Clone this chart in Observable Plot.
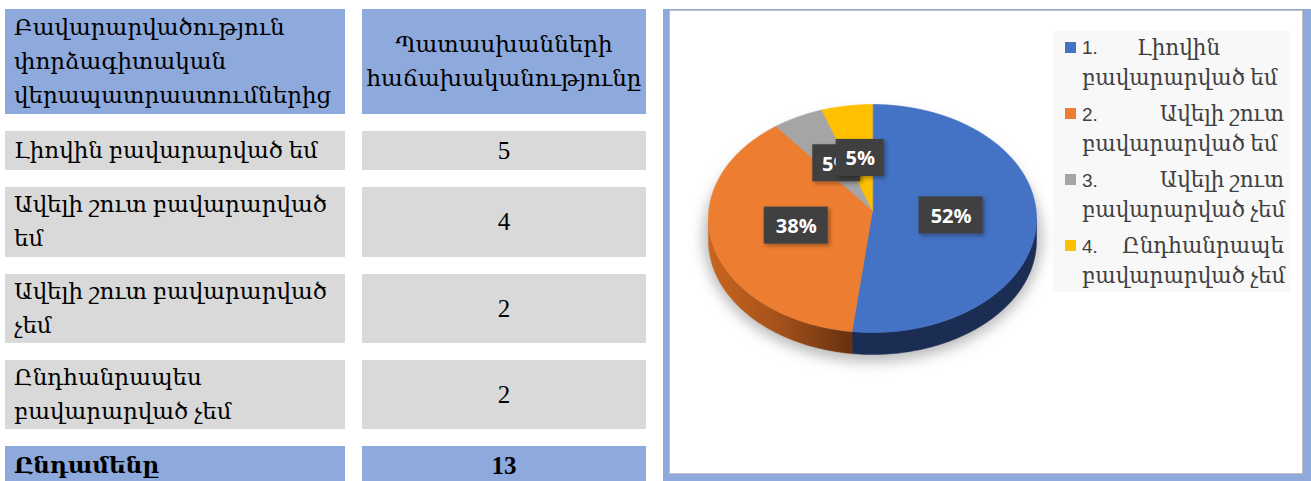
<!DOCTYPE html>
<html><head><meta charset="utf-8">
<script src="https://cdn.jsdelivr.net/npm/d3@7"></script>
<script src="https://cdn.jsdelivr.net/npm/@observablehq/plot@0.6"></script>
<style>
body{margin:0;background:#fff;}
#root{position:relative;width:1311px;height:481px;overflow:hidden;background:#fff;font-family:"Liberation Serif","DejaVu Serif",serif;}
.cell{position:absolute;display:flex;flex-direction:column;justify-content:center;box-sizing:border-box;color:#000;font-size:23px;line-height:34px;white-space:nowrap;}
.hdr{background:#8EA9DB;}
.row{background:#D9D9D9;}
.left{padding-left:9px;align-items:flex-start;}
.center{align-items:center;text-align:center;}
.num{font-size:25px;}
.bold{font-weight:bold;}
#frame{position:absolute;left:663px;top:9px;width:648px;height:480px;background:#8EA9DB;}
#inner{position:absolute;left:669px;top:10px;width:634px;height:464px;background:#fff;border:1px solid #BFBFBF;box-sizing:border-box;}
#plot{position:absolute;left:669px;top:10px;}
#legend{position:absolute;left:1053px;top:31px;width:237px;height:261px;background:#F8F8F8;color:#404040;font-size:21.5px;}
.item{position:relative;height:66px;}
.line{position:absolute;left:29px;right:6px;height:30px;line-height:30px;white-space:nowrap;display:flex;align-items:baseline;}
.sw{position:absolute;left:12px;top:11px;width:11px;height:11px;}
.lnum{font-family:"Liberation Sans",Arial,sans-serif;font-size:19px;}
.w{margin-left:auto;}
.w.tab{margin-left:0;position:absolute;left:55px;}
</style></head>
<body><div id="root"></div>
<script>
// ---- data ----
const headerLeftLines = ["Բավարարվածություն", "փորձագիտական", "վերապատրաստումներից"];
const headerRightLines = ["Պատասխանների", "հաճախականությունը"];
const categoryLines = [
  ["Լիովին բավարարված եմ"],
  ["Ավելի շուտ բավարարված", "եմ"],
  ["Ավելի շուտ բավարարված", "չեմ"],
  ["Ընդհանրապես", "բավարարված չեմ"]
];
const counts = [5, 4, 2, 2];
const totalLabel = "Ընդամենը";
const totalCount = 13;
const legendNumbers = ["1.", "2.", "3.", "4."];
const legendFirst = ["Լիովին", "Ավելի շուտ", "Ավելի շուտ", "Ընդհանրապե"];
const legendSecond = ["բավարարված եմ", "բավարարված եմ", "բավարարված չեմ", "բավարարված չեմ"];
const piePercents = [52, 38, 5, 5];
const pieLabels = ["52%", "38%", "5%", "5%"];

// ---- styles ----
const sliceColors = ["#4472C4", "#ED7D31", "#A5A5A5", "#FFC000"];
const sideColors = ["#1B2D52", "url(#orangeSide)", "#6E6E6E", "#B38600"];

const root = document.getElementById("root");
function cell(cls, x0, x1, y0, y1, lines) {
  const d = document.createElement("div");
  d.className = "cell " + cls;
  Object.assign(d.style, {left: x0 + "px", top: y0 + "px", width: (x1 - x0) + "px", height: (y1 - y0) + "px"});
  lines.forEach(t => { const s = document.createElement("div"); s.textContent = t; d.appendChild(s); });
  root.appendChild(d);
}
const colL = [5, 345], colR = [362, 646];
const rowY = [[131, 170], [187, 257], [274, 343], [360, 429]];
cell("hdr left", colL[0], colL[1], 9, 114, headerLeftLines);
cell("hdr center", colR[0], colR[1], 9, 114, headerRightLines);
categoryLines.forEach((lines, i) => {
  cell("row left", colL[0], colL[1], rowY[i][0], rowY[i][1], lines);
  cell("row center num", colR[0], colR[1], rowY[i][0], rowY[i][1], [String(counts[i])]);
});
cell("hdr left bold", colL[0], colL[1], 446, 486, [totalLabel]);
cell("hdr center bold num", colR[0], colR[1], 446, 486, [String(totalCount)]);

const frame = document.createElement("div"); frame.id = "frame"; root.appendChild(frame);
const inner = document.createElement("div"); inner.id = "inner"; root.appendChild(inner);

// ---- pie (Plot) ----
const W = 633, H = 463;
const cx = 203, cy = 208, apexDy = -8, rx = 164, ry = 114, depth = 22, labelK = 0.48;
const slices = piePercents.map((v, i) => ({i, value: v, label: pieLabels[i]}));
const arcs = d3.pie().sort(null).value(d => d.value)(slices);
const pt = (a, dy = 0, ex = 0, ey = 0) => ({x: cx + (rx + ex) * Math.sin(a), y: cy - (ry + ey) * Math.cos(a) + dy});
function arcPts(a0, a1, dy = 0, ex = 0, ey = 0) {
  const n = Math.max(2, Math.ceil((a1 - a0) / 0.02));
  return d3.range(n + 1).map(k => pt(a0 + (a1 - a0) * k / n, dy, ex, ey));
}
const marks = [];
// shadow
marks.push(Plot.line(arcPts(0, 2 * Math.PI, depth / 2 + 8, 5, 10), {x: "x", y: "y", fill: "#9a9a9a", stroke: "none", curve: "linear-closed", fillOpacity: 0.7}));
// sides
arcs.forEach(a => {
  const s0 = Math.max(a.startAngle, Math.PI / 2), s1 = Math.min(a.endAngle, 3 * Math.PI / 2);
  if (s0 < s1) {
    const pts = [...arcPts(s0, s1), ...arcPts(s0, s1, depth).reverse()];
    const c = sideColors[a.data.i];
    marks.push(Plot.line(pts, {x: "x", y: "y", fill: c, stroke: c, strokeWidth: 0.5, curve: "linear-closed"}));
  }
});
// tops
arcs.forEach(a => {
  const pts = [{x: cx, y: cy + apexDy}, ...arcPts(a.startAngle, a.endAngle)];
  const c = sliceColors[a.data.i];
  marks.push(Plot.line(pts, {x: "x", y: "y", fill: c, stroke: c, strokeWidth: 0.6, curve: "linear-closed"}));
});
// labels
const labelData = arcs.map(a => {
  const m = (a.startAngle + a.endAngle) / 2;
  return {x: cx + labelK * rx * Math.sin(m), y: cy + apexDy - labelK * ry * Math.cos(m) + 1.5, label: a.data.label, w: 16 + 16 * a.data.label.length};
});
labelData.forEach(d => {
  marks.push(Plot.rect([d], {x1: e => e.x - e.w / 2, x2: e => e.x + e.w / 2, y1: e => e.y - 18.5, y2: e => e.y + 18.5, fill: "#404040"}));
  marks.push(Plot.text([d], {x: "x", y: "y", text: "label", fill: "white", fontSize: 20, fontWeight: 700, fontFamily: "Open Sans", dy: 1}));
});

const svg = Plot.plot({
  width: W, height: H, margin: 0,
  x: {domain: [0, W], range: [0, W], axis: null},
  y: {domain: [0, H], range: [0, H], axis: null},
  style: {background: "transparent", overflow: "visible"},
  marks
});
svg.id = "plot";
const defs = d3.select(svg).insert("defs", ":first-child");
const blur = defs.append("filter").attr("id", "blur").attr("x", "-20%").attr("y", "-20%").attr("width", "140%").attr("height", "140%");
blur.append("feGaussianBlur").attr("stdDeviation", 7);
const ds = defs.append("filter").attr("id", "ds").attr("x", "-30%").attr("y", "-30%").attr("width", "160%").attr("height", "160%");
ds.append("feDropShadow").attr("dx", 2).attr("dy", 2).attr("stdDeviation", 2).attr("flood-color", "#000").attr("flood-opacity", 0.35);
const og = defs.append("linearGradient").attr("id", "orangeSide").attr("gradientUnits", "userSpaceOnUse")
  .attr("x1", cx - rx).attr("x2", cx - 25).attr("y1", 0).attr("y2", 0);
og.append("stop").attr("offset", 0).attr("stop-color", "#C8651F");
og.append("stop").attr("offset", 0.5).attr("stop-color", "#A5521A");
og.append("stop").attr("offset", 1).attr("stop-color", "#6A3210");
const lineGroups = svg.querySelectorAll('g[aria-label="line"]');
if (lineGroups.length) lineGroups[0].setAttribute("filter", "url(#blur)");
svg.querySelectorAll('g[aria-label="rect"]').forEach(g => g.setAttribute("filter", "url(#ds)"));
root.appendChild(svg);

// ---- legend ----
const legend = document.createElement("div"); legend.id = "legend";
legendFirst.forEach((w, i) => {
  const it = document.createElement("div"); it.className = "item";
  const sw = document.createElement("div"); sw.className = "sw"; sw.style.background = sliceColors[i]; it.appendChild(sw);
  const l1 = document.createElement("div"); l1.className = "line"; l1.style.top = "2px";
  const n = document.createElement("span"); n.className = "lnum"; n.textContent = legendNumbers[i]; l1.appendChild(n);
  const ws = document.createElement("span"); ws.className = "w" + (i === 0 ? " tab" : ""); ws.textContent = w; l1.appendChild(ws);
  it.appendChild(l1);
  const l2 = document.createElement("div"); l2.className = "line"; l2.style.top = "32px"; l2.textContent = legendSecond[i];
  it.appendChild(l2);
  legend.appendChild(it);
});
root.appendChild(legend);
</script></body></html>
